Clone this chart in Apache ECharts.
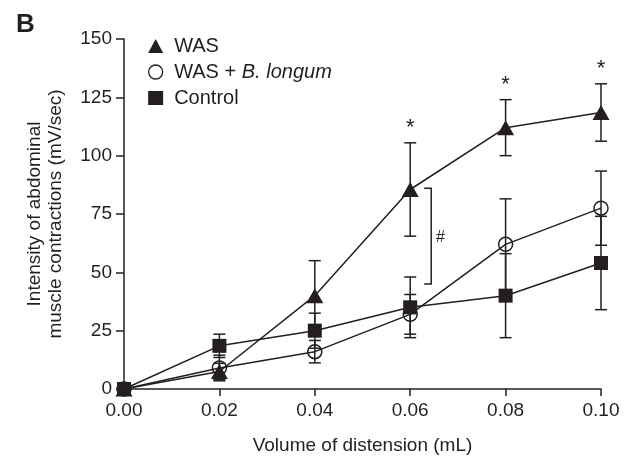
<!DOCTYPE html>
<html>
<head>
<meta charset="utf-8">
<script src="https://cdn.jsdelivr.net/npm/echarts@6/dist/echarts.min.js"></script>
<style>
  html, body { margin: 0; padding: 0; background: #fff; }
  #chart { width: 632px; height: 460px; }
</style>
</head>
<body>
<div id="chart"></div>
<script>
// distension volumes (mL)
var xVals = [0, 0.02, 0.04, 0.06, 0.08, 0.10];

// mean +/- error per group
var wasMean = [0, 7.5, 40, 85.5, 112, 118.5];
var wasErr  = [0, 3.5, 15, 20, 12, 12.3];
var bloMean = [0, 9, 16, 32, 62, 77.5];
var bloErr  = [0, 5.5, 4.8, 8.5, 19.5, 15.9];
var ctlMean = [0, 18.5, 25, 35, 40, 54];
var ctlErr  = [0, 5, 7.5, 13, 18, 20];

// significance marks
var starX = [0.06, 0.08, 0.10];
var bracket = [0.06, 45, 86];

var ink = '#231f20';
var font = '"Liberation Sans", Arial, Helvetica, sans-serif';

function pairs(means) {
  return xVals.map(function (x, i) { return [x, means[i]]; });
}
function errData(means, errs) {
  var out = [];
  xVals.forEach(function (x, i) {
    if (errs[i] > 0) out.push([x, means[i] - errs[i], means[i] + errs[i]]);
  });
  return out;
}

function errorBar(params, api) {
  var x = api.value(0);
  var top = api.coord([x, api.value(2)]);
  var bot = api.coord([x, api.value(1)]);
  var hw = 6;
  var st = { stroke: ink, lineWidth: 1.5 };
  return {
    type: 'group',
    children: [
      { type: 'line', shape: { x1: top[0], y1: top[1], x2: bot[0], y2: bot[1] }, style: st },
      { type: 'line', shape: { x1: top[0] - hw, y1: top[1], x2: top[0] + hw, y2: top[1] }, style: st },
      { type: 'line', shape: { x1: bot[0] - hw, y1: bot[1], x2: bot[0] + hw, y2: bot[1] }, style: st }
    ]
  };
}

var starData = starX.map(function (x) {
  var i = xVals.indexOf(x);
  return [x, wasMean[i] + wasErr[i]];
});

var chart = echarts.init(document.getElementById('chart'));

var option = {
  animation: false,
  backgroundColor: '#fff',
  textStyle: { fontFamily: font, color: ink },
  grid: { left: 124, right: 31, top: 39, bottom: 70 },
  graphic: [{
    type: 'text', left: 16, top: 12,
    style: { text: 'B', font: 'bold 26px ' + font, fill: ink }
  }],
  legend: {
    orient: 'vertical',
    left: 143, top: 31,
    itemWidth: 15, itemHeight: 14, itemGap: 6,
    data: [
      { name: 'WAS', icon: 'triangle' },
      { name: 'WAS + B. longum', icon: 'circle', itemStyle: { color: 'rgba(255,255,255,0)', borderColor: ink, borderWidth: 1.3 } },
      { name: 'Control', icon: 'rect' }
    ],
    formatter: function (name) {
      if (name === 'WAS + B. longum') return '{n|WAS + }{i|B. longum}';
      return '{n|' + name + '}';
    },
    textStyle: {
      fontSize: 20, color: ink, fontFamily: font,
      rich: {
        n: { fontSize: 20, color: ink, fontFamily: font, padding: [0, 0, 0, 6] },
        i: { fontSize: 20, color: ink, fontFamily: font, fontStyle: 'italic' }
      }
    }
  },
  xAxis: {
    type: 'value',
    min: 0, max: 0.1, interval: 0.02,
    name: 'Volume of distension (mL)',
    nameLocation: 'middle', nameGap: 47,
    nameTextStyle: { fontSize: 19, color: ink },
    axisLine: { lineStyle: { color: ink, width: 1.5 } },
    axisTick: { length: 7, lineStyle: { color: ink, width: 1.5 } },
    axisLabel: { fontSize: 19, color: ink, margin: 12, formatter: function (v) { return v.toFixed(2); } },
    splitLine: { show: false }
  },
  yAxis: {
    type: 'value',
    min: 0, max: 150, interval: 25,
    name: 'Intensity of abdominal\nmuscle contractions (mV/sec)',
    nameLocation: 'middle', nameGap: 58,
    nameTextStyle: { fontSize: 19, color: ink, lineHeight: 21 },
    axisLine: { show: true, lineStyle: { color: ink, width: 1.5 } },
    axisTick: { show: true, length: 8, lineStyle: { color: ink, width: 1.5 } },
    axisLabel: { fontSize: 19, color: ink, margin: 12 },
    splitLine: { show: false }
  },
  series: [
    {
      name: 'WAS', type: 'line', data: pairs(wasMean),
      symbol: 'triangle', symbolSize: [17, 15], z: 3,
      lineStyle: { color: ink, width: 1.5 },
      itemStyle: { color: ink }
    },
    {
      name: 'WAS + B. longum', type: 'line', data: pairs(bloMean),
      symbol: 'circle', symbolSize: 14, z: 4,
      lineStyle: { color: ink, width: 1.5 },
      itemStyle: { color: 'rgba(255,255,255,0)', borderColor: ink, borderWidth: 1.5 }
    },
    {
      name: 'Control', type: 'line', data: pairs(ctlMean),
      symbol: 'rect', symbolSize: 14, z: 5,
      lineStyle: { color: ink, width: 1.5 },
      itemStyle: { color: ink }
    },
    { type: 'custom', renderItem: errorBar, data: errData(wasMean, wasErr), z: 2, silent: true },
    { type: 'custom', renderItem: errorBar, data: errData(bloMean, bloErr), z: 2, silent: true },
    { type: 'custom', renderItem: errorBar, data: errData(ctlMean, ctlErr), z: 2, silent: true },
    {
      type: 'custom', silent: true, data: starData,
      renderItem: function (params, api) {
        var p = api.coord([api.value(0), api.value(1)]);
        return {
          type: 'text',
          style: { text: '*', x: p[0], y: p[1] - 15, align: 'center', verticalAlign: 'middle', font: '22px ' + font, fill: ink }
        };
      }
    },
    {
      type: 'custom', silent: true, data: [bracket],
      renderItem: function (params, api) {
        var x = api.value(0);
        var top = api.coord([x, api.value(2)]);
        var bot = api.coord([x, api.value(1)]);
        var bx = top[0] + 21;
        var st = { stroke: ink, lineWidth: 1.5, fill: null };
        return {
          type: 'group',
          children: [
            { type: 'polyline', shape: { points: [[bx - 7, top[1]], [bx, top[1]], [bx, bot[1]], [bx - 7, bot[1]]] }, style: st },
            { type: 'text', style: { text: '#', x: bx + 9, y: (top[1] + bot[1]) / 2 + 1, align: 'center', verticalAlign: 'middle', font: 'italic 16px ' + font, fill: ink } }
          ]
        };
      }
    }
  ]
};

chart.setOption(option);
</script>
</body>
</html>
